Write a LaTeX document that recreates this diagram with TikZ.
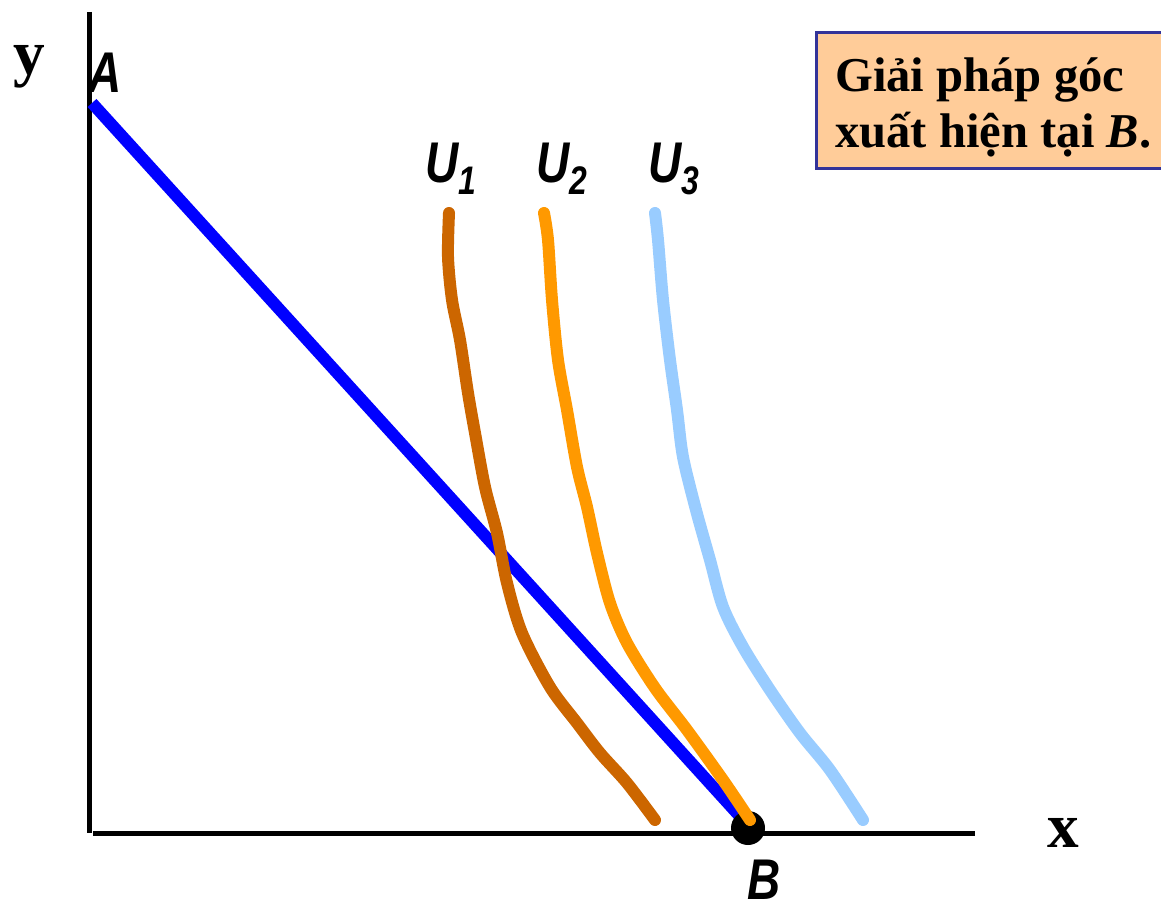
\documentclass[tikz,border=0pt]{standalone}
\usepackage{fontspec}
\setmainfont{Liberation Serif}
\newfontfamily\lblfont{Liberation Sans}[FakeStretch=0.8]
\usepackage{xcolor}
\usetikzlibrary{positioning}

\definecolor{budget}{HTML}{0000FF}
\definecolor{uone}{HTML}{CC6600}
\definecolor{utwo}{HTML}{FF9900}
\definecolor{uthree}{HTML}{99CCFF}
\definecolor{notefill}{HTML}{FFCC99}
\definecolor{noteline}{HTML}{333399}

\newcommand{\ulabel}[1]{U\raisebox{-10pt}{\fontsize{34}{36}\selectfont #1}}

\begin{document}
\begin{tikzpicture}[x=0.03cm,y=-0.03cm,
  axis/.style={line width=0.15cm},
  ucurve/.style={line width=0.36cm,line cap=round,line join=round},
  ltr/.style={font=\lblfont\bfseries\itshape\fontsize{49}{52}\selectfont,inner sep=0,anchor=base west},
  axlabel/.style={font=\bfseries\fontsize{54}{56}\selectfont,inner sep=0,anchor=base west}]
  \useasboundingbox (0,0) rectangle (1161,907);
  % axes
  \coordinate (ytop) at (89,12);
  \coordinate (orig) at (89,833);
  \coordinate (xend) at (975,833);
  \draw[axis] (ytop) -- (orig);
  \draw[axis] (93,833) -- (xend);
  \node[axlabel] (ylab) at (13,75) {y};
  \node[axlabel] (xlab) at (1047,847) {x};
  % note box
  \draw[line width=0.09cm,draw=noteline,fill=notefill] (816,33) rectangle (1180,169);
  \node[font=\bfseries\fontsize{41.5}{47.8}\selectfont,align=left,inner sep=0,anchor=base west] (note) at (835,148)
    {Giải pháp góc\\xuất hiện tại \textit{B}.};
  % budget line
  \coordinate (A) at (92,103);
  \coordinate (Bend) at (745,822);
  \draw[line width=0.36cm,budget] (A) -- (Bend);
  \node[circle,fill=black,inner sep=0,minimum size=1.02cm] (Bdot) at (748,828) {};
  % indifference curves
  \draw[ucurve,uone] plot[smooth] coordinates {(449,213) (448,257) (452,300) (460,340) (468,393) (475,433)
    (485,487) (497,533) (507,583) (522,633) (550,687) (577,723) (600,753) (627,783) (655,820)};
  \draw[ucurve,utwo] plot[smooth] coordinates {(544,213) (548,240) (552,300) (558,360) (567,410) (577,467)
    (587,507) (597,553) (610,603) (627,643) (655,688) (687,730) (723,780) (750,820)};
  \draw[ucurve,uthree] plot[smooth] coordinates {(655,213) (658,240) (663,300) (670,360) (677,410) (683,457)
    (696,510) (710,560) (723,607) (743,647) (770,690) (800,733) (830,770) (863,820)};
  \node[ltr] (Alab) at (88,93) {A};
  \node[ltr] (Blab) at (747,899) {B};
  \node[ltr] (u1) at (425,183) {\ulabel{1}};
  \node[ltr] (u2) at (536,183) {\ulabel{2}};
  \node[ltr] (u3) at (648,183) {\ulabel{3}};
\end{tikzpicture}
\end{document}
